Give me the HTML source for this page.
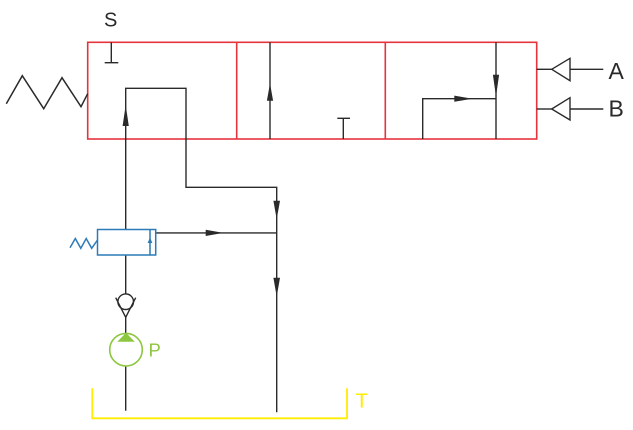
<!DOCTYPE html>
<html>
<head>
<meta charset="utf-8">
<style>
html,body{margin:0;padding:0;background:#fff;}
svg{display:block;}
text{font-family:"Liberation Sans",Arial,sans-serif;}
</style>
</head>
<body>
<svg width="633" height="430" viewBox="0 0 633 430" xmlns="http://www.w3.org/2000/svg">
  <!-- main valve red box -->
  <g fill="none" stroke="#e6333d" stroke-width="1.6">
    <rect x="87.7" y="42.3" width="449" height="96.7"/>
    <line x1="236.7" y1="42.3" x2="236.7" y2="139"/>
    <line x1="385.3" y1="42.3" x2="385.3" y2="139"/>
  </g>

  <!-- left spring -->
  <polyline points="6.3,103.7 22.3,75.7 43.7,108.7 62,77.7 81,106.7 87.7,93.7" fill="none" stroke="#2a2a2a" stroke-width="1.5"/>

  <g stroke="#2a2a2a" stroke-width="1.4" fill="none">
    <!-- first cell T -->
    <line x1="111.3" y1="42.3" x2="111.3" y2="62.7"/>
    <line x1="104.7" y1="62.7" x2="118.3" y2="62.7"/>
    <!-- path through first cell -->
    <polyline points="125.7,229.5 125.7,88.3 186,88.3 186,187.3 276.7,187.3 276.7,412.3"/>
    <!-- second cell -->
    <line x1="270" y1="42.3" x2="270" y2="139"/>
    <line x1="343.3" y1="118.3" x2="343.3" y2="139"/>
    <line x1="337.3" y1="118.3" x2="350" y2="118.3"/>
    <!-- third cell -->
    <line x1="496" y1="42.3" x2="496" y2="139"/>
    <polyline points="422.7,139 422.7,98.7 496,98.7"/>
    <!-- A B controls -->
    <line x1="536.7" y1="69.3" x2="551.7" y2="69.3"/>
    <polygon points="551.7,69.3 570,58.3 570,80.7"/>
    <line x1="570" y1="69.3" x2="603.3" y2="69.3"/>
    <line x1="536.7" y1="109" x2="551.7" y2="109"/>
    <polygon points="551.7,109 570,97.7 570,120"/>
    <line x1="570" y1="109" x2="603.3" y2="109"/>
    <!-- relief valve outlet -->
    <line x1="155.7" y1="232.9" x2="276.7" y2="232.9"/>
    <!-- below relief valve -->
    <line x1="125.7" y1="255" x2="125.7" y2="294"/>
    <!-- check valve -->
    <circle cx="125.7" cy="301.7" r="7.8"/>
    <polyline points="115.7,297.7 125.7,317.3 135.7,297.7"/>
    <line x1="125.7" y1="317.3" x2="125.7" y2="333.3"/>
    <line x1="125.7" y1="366" x2="125.7" y2="410.7"/>
  </g>

  <!-- arrowheads -->
  <g fill="#2a2a2a">
    <polygon points="125.7,105 122.6,126 128.8,126"/>
    <polygon points="270,83.3 266.9,100.7 273.1,100.7"/>
    <polygon points="496,96.7 492.9,74.7 499.1,74.7"/>
    <polygon points="472.5,98.7 454.3,95.6 454.3,101.8"/>
    <polygon points="276.7,219.3 273.4,200.7 280,200.7"/>
    <polygon points="276.7,296.7 273.4,277.7 280,277.7"/>
    <polygon points="223.3,232.9 205.7,229.8 205.7,236"/>
  </g>

  <!-- relief valve (blue) -->
  <g stroke="#2b7bb9" stroke-width="1.5" fill="none">
    <rect x="97.5" y="229.5" width="58.2" height="25.5"/>
    <line x1="150" y1="229.5" x2="150" y2="255"/>
    <polyline points="70,247.7 75.3,238.5 80.8,248.3 86.2,238.5 91.7,248.3 97.5,240"/>
  </g>
  <polygon points="150,237.5 147.6,243 152.4,243" fill="#2b7bb9"/>

  <!-- pump (green) -->
  <circle cx="126" cy="349.7" r="16.3" fill="none" stroke="#8dc63f" stroke-width="1.6"/>
  <polygon points="126,332.7 117.3,341.7 134.7,341.7" fill="#8dc63f"/>

  <!-- tank (yellow) -->
  <polyline points="92.3,388.3 92.3,418.3 347,418.3 347,388.3" fill="none" stroke="#ffec00" stroke-width="1.8"/>

  <!-- labels -->
  <text x="104" y="26.3" font-size="20" fill="#2a2a2a">S</text>
  <text x="608.5" y="79" font-size="23" fill="#2a2a2a">A</text>
  <text x="608.5" y="116.7" font-size="23" fill="#2a2a2a">B</text>
  <text x="148.5" y="356.7" font-size="18.5" fill="#8dc63f">P</text>
  <text x="355.5" y="407.3" font-size="20.5" fill="#ffec00">T</text>
</svg>
</body>
</html>
